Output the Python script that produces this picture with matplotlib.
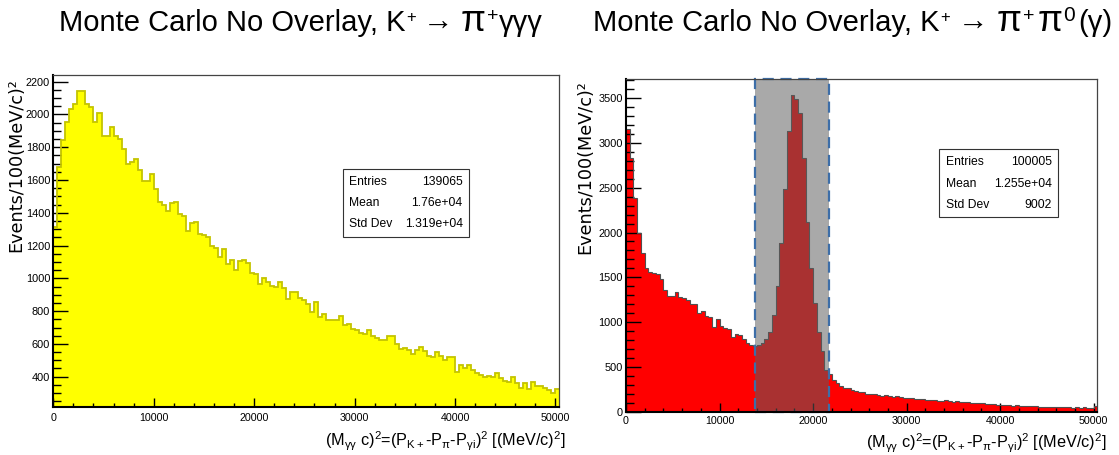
import numpy as np
import matplotlib
matplotlib.use("Agg")
import matplotlib.pyplot as plt
from matplotlib import font_manager as fm
from matplotlib.patches import Rectangle
from matplotlib.transforms import IdentityTransform
from matplotlib.ticker import MultipleLocator

# ---------------- data ----------------
BIN_WIDTH = 400
N_BINS = 126

left_counts = [
    1315, 1678, 1844, 1952, 2033, 2062, 2141, 2141, 2062, 2047,
    1952, 2007, 1869, 1869, 1925, 1869, 1849, 1789, 1696, 1708,
    1726, 1661, 1594, 1594, 1635, 1543, 1468, 1448, 1411, 1462,
    1468, 1391, 1383, 1289, 1336, 1346, 1269, 1265, 1255, 1198,
    1183, 1132, 1177, 1088, 1112, 1051, 1106, 1110, 1094, 1031,
    1025, 966, 1004, 980, 953, 949, 980, 939, 872, 917,
    917, 878, 865, 844, 794, 855, 764, 784, 743, 747,
    743, 768, 713, 723, 693, 683, 669, 663, 683, 646,
    638, 626, 622, 646, 646, 602, 566, 576, 562, 541,
    562, 582, 558, 525, 517, 552, 525, 501, 521, 521,
    430, 471, 451, 471, 440, 424, 410, 396, 404, 400,
    424, 390, 376, 370, 396, 360, 329, 360, 323, 370,
    343, 343, 329, 319, 303, 323,
]

right_counts = [
    3155, 2828, 2388, 1991, 1768, 1607, 1556, 1545, 1533, 1478,
    1358, 1291, 1291, 1336, 1277, 1266, 1247, 1202, 1202, 1105,
    1127, 1068, 1053, 949, 1035, 956, 931, 920, 837, 867,
    856, 808, 770, 741, 738, 745, 770, 815, 885, 1075,
    1405, 1883, 2487, 3136, 3538, 3485, 3330, 2835, 2115, 1600,
    1217, 890, 680, 470, 420, 350, 320, 285, 270, 262,
    240, 232, 215, 220, 200, 195, 198, 185, 180, 184,
    172, 168, 170, 160, 158, 152, 150, 145, 140, 144,
    132, 130, 134, 125, 122, 128, 115, 112, 118, 108,
    112, 104, 98, 102, 92, 95, 88, 84, 86, 80,
    76, 78, 70, 68, 72, 65, 62, 66, 60, 62,
    56, 58, 55, 52, 56, 50, 52, 48, 50, 46,
    48, 45, 47, 44, 46, 60,
]

signal_window = (13800, 21740)

x_limits = (0, 50350)
left_ylim = (213, 2241)
right_ylim = (0, 3710)

stats_left = [("Entries", "139065"), ("Mean", "1.76e+04"), ("Std Dev", "1.319e+04")]
stats_right = [("Entries", "100005"), ("Mean", "1.255e+04"), ("Std Dev", "9002")]

y_label = "Events/100(MeV/c)\u00b2"
x_label = (r"(M$_{\mathrm{\gamma\gamma}}$ c)$^{\mathrm{2}}$=(P$_{\mathrm{K+}}$-P$_{\mathrm{\pi}}$"
           r"-P$_{\mathrm{\gamma i}}$)$^{\mathrm{2}}$ [(MeV/c)$^{\mathrm{2}}$]")

# ---------------- fonts ----------------
names = {f.name for f in fm.fontManager.ttflist}
NARROW = "Liberation Sans Narrow" if "Liberation Sans Narrow" in names else "Liberation Sans"
plt.rcParams["font.family"] = ["Liberation Sans", "DejaVu Sans"]
plt.rcParams["mathtext.fontset"] = "custom"
plt.rcParams["mathtext.rm"] = NARROW
plt.rcParams["mathtext.it"] = NARROW + ":italic"
plt.rcParams["mathtext.bf"] = NARROW + ":bold"

W, H = 1119, 455
fig = plt.figure(figsize=(W / 100, H / 100), dpi=100)
fig.patch.set_facecolor("white")
PX = IdentityTransform()


def add_axes_px(x0, y0, x1, y1):
    return fig.add_axes([x0 / W, 1 - y1 / H, (x1 - x0) / W, (y1 - y0) / H])


edges = np.arange(N_BINS + 1) * BIN_WIDTH

axL = add_axes_px(53.3, 75, 559, 407.3)
axR = add_axes_px(626, 79.3, 1097, 411.7)

axL.stairs(left_counts, edges, fill=True, color="#ffff00", zorder=1)
axL.stairs(left_counts, edges, color="#c4c400", lw=1.3, baseline=None, zorder=2)

axR.stairs(right_counts, edges, fill=True, color="#ff0000", zorder=1)
axR.stairs(right_counts, edges, color="#505050", lw=0.8, baseline=None, zorder=2)

lo, hi = signal_window
axR.add_patch(Rectangle((lo, right_ylim[0]), hi - lo, right_ylim[1] - right_ylim[0],
                        facecolor="#5e5e5e", alpha=0.53, edgecolor="none", zorder=3))
axR.add_patch(Rectangle((lo, right_ylim[0]), hi - lo, right_ylim[1] - right_ylim[0],
                        fill=False, edgecolor="#3d6ea8", lw=1.6,
                        linestyle=(0, (5, 3)), zorder=5, clip_on=False))

for ax, ylim, ymaj, ymin_, xpad in ((axL, left_ylim, 200, 50, 4.2), (axR, right_ylim, 500, 100, 3.4)):
    ax.set_xlim(*x_limits)
    ax.set_ylim(*ylim)
    ax.xaxis.set_major_locator(MultipleLocator(10000))
    ax.xaxis.set_minor_locator(MultipleLocator(2000))
    ax.yaxis.set_major_locator(MultipleLocator(ymaj))
    ax.yaxis.set_minor_locator(MultipleLocator(ymin_))
    ax.tick_params(axis="y", which="major", direction="in", length=10.8, width=1.0,
                   labelsize=7.9, pad=2.2, colors="black")
    ax.tick_params(axis="y", which="minor", direction="in", length=5.6, width=1.0)
    ax.tick_params(axis="x", which="major", direction="in", length=6.8, width=1.0,
                   labelsize=7.7, pad=xpad)
    ax.tick_params(axis="x", which="minor", direction="in", length=3.2, width=1.0)
    for lab in ax.get_xticklabels() + ax.get_yticklabels():
        lab.set_family(NARROW)
    ax.spines["left"].set_linewidth(1.5)
    ax.spines["bottom"].set_linewidth(1.5)
    for s in ("top", "right"):
        ax.spines[s].set_linewidth(0.9)
        ax.spines[s].set_color("#444444")
    for s in ax.spines.values():
        s.set_zorder(6)

# y labels
for xb, ytop in ((20.8, 78.3), (590, 80)):
    fig.text(xb, H - ytop, y_label, transform=PX, rotation=90, rotation_mode="anchor",
             ha="right", va="baseline", fontsize=12.7, family="DejaVu Sans")

# x labels
for xr, yb in ((566, 446.5), (1107, 448)):
    fig.text(xr, H - yb, x_label, transform=PX, ha="right", va="baseline",
             fontsize=11.7, family=NARROW)


# stats boxes
def stats_box(x0, y_top, x1, y_bot, rows, lx, rx, row_ys):
    fig.add_artist(Rectangle((x0, H - y_bot), x1 - x0, y_bot - y_top, transform=PX,
                             facecolor="white", edgecolor="#333333", lw=0.8, zorder=10))
    for (k, v), y in zip(rows, row_ys):
        fig.text(lx, H - y, k, transform=PX, ha="left", va="center", fontsize=8.7,
                 family=NARROW, zorder=11)
        fig.text(rx, H - y, v, transform=PX, ha="right", va="center", fontsize=8.7,
                 family=NARROW, zorder=11)


stats_box(342.7, 169.3, 469.3, 236.7, stats_left, 349, 462.7, (181.7, 203.3, 224.3))
stats_box(939.3, 149.3, 1057.7, 216.7, stats_right, 946, 1051.7, (161.7, 184, 205))

# titles (rich text pieces so that pi can be larger)
renderer = fig.canvas.get_renderer()


def rich_text(xc, base_top, parts):
    arts, widths = [], []
    for s, size, dy, gap in parts:
        t = fig.text(0, 0, s, transform=PX, ha="left", va="baseline", fontsize=size,
                     family=["Liberation Sans", "DejaVu Sans"])
        arts.append(t)
        widths.append(t.get_window_extent(renderer).width + gap)
    total = sum(widths) - parts[-1][3]
    x = xc - total / 2
    for t, w, (s, size, dy, gap) in zip(arts, widths, parts):
        t.set_position((x, H - base_top + dy))
        x += w


head = "Monte Carlo No Overlay, K"
rich_text(301, 31, [(head, 21, 0, 1), ("+", 12, 9, 7), ("\u2192", 22, 0, 7),
                    ("\u03c0", 26, 0, 1), ("+", 14, 10, 1), ("\u03b3\u03b3\u03b3", 21, 0, 0)])
rich_text(852.5, 31, [(head, 21, 0, 1), ("+", 12, 9, 8), ("\u2192", 22, 0, 8),
                      ("\u03c0", 26, 0, 1), ("+", 14, 10, 3), ("\u03c0", 26, 0, 1),
                      ("0", 15, 10, 3), ("(\u03b3)", 21, 0, 0)])

fig.savefig("out.png", dpi=100)
